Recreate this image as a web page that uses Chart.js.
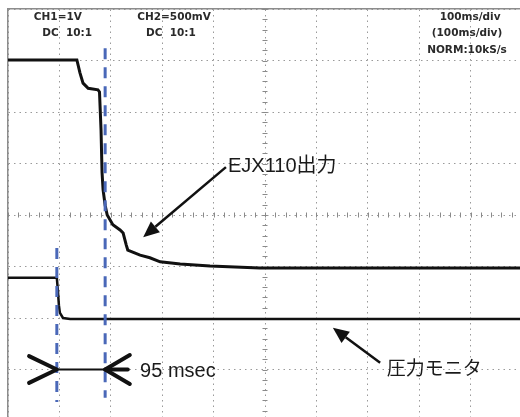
<!DOCTYPE html>
<html>
<head>
<meta charset="utf-8">
<script src="https://cdn.jsdelivr.net/npm/chart.js@4/dist/chart.umd.min.js"></script>
<style>
  html, body { margin: 0; padding: 0; background: #fff; overflow: hidden; }
  canvas { display: block; }
</style>
</head>
<body>
<canvas id="scope" width="530" height="430"></canvas>
<script>
// time in ms (100 ms/div), level in divisions above the centre line
const ejxTime  = [0, 134, 140, 146, 156, 175, 178, 181, 183, 185, 189, 193, 204, 218, 224, 230, 233, 257, 276, 296, 335, 393, 490, 1000];
const ejxLevel = [3.01, 3.01, 2.76, 2.56, 2.46, 2.43, 2.39, 1.65, 0.82, 0.49, 0.19, 0, -0.19, -0.29, -0.35, -0.58, -0.68, -0.78, -0.83, -0.91, -0.95, -0.99, -1.03, -1.03];

const monTime  = [0, 95, 97, 99, 101, 107, 121, 1000];
const monLevel = [-1.22, -1.22, -1.46, -1.75, -1.9, -2.0, -2.02, -2.02];

// blue cursors
const cursorTime   = [95, 189];
const cursorTop    = [-0.64, 3.24];
const cursorBottom = [-3.63, -3.55];

// 95 msec span marker
const spanLevel = -3;
const leftChevronTime  = [41, 95, 41];
const leftChevronLevel = [-2.74, -3, -3.26];
const rightChevronTime  = [237, 189, 237];
const rightChevronLevel = [-2.72, -3, -3.28];
const rightStubTime = [189, 233];

const headerLabels = ['CH1=1V', 'DC  10:1', 'CH2=500mV', 'DC  10:1', '100ms/div', '(100ms/div)', 'NORM:10kS/s'];
const headerTime   = [97, 115, 323, 317, 899, 893, 893];
const headerLevel  = [3.83, 3.52, 3.83, 3.52, 3.83, 3.52, 3.2];

const toPts = (xs, ys) => xs.map((x, i) => ({ x, y: ys[i] }));

const ink = '#111';
const cursorBlue = '#4a68b8';

const scopeDecor = {
  id: 'scopeDecor',
  beforeDatasetsDraw(chart) {
    const { ctx, scales: { x, y } } = chart;
    const cx = x.getPixelForValue(500);
    const cy = y.getPixelForValue(0);
    ctx.save();
    ctx.strokeStyle = '#8a8a8a';
    ctx.lineWidth = 1;
    ctx.beginPath();
    for (let t = 0; t <= 1000; t += 20) {
      const px = Math.round(x.getPixelForValue(t)) + 0.5;
      ctx.moveTo(px, cy - 2.5);
      ctx.lineTo(px, cy + 2.5);
    }
    for (let v = -40; v <= 40; v += 2) {
      const py = Math.round(y.getPixelForValue(v / 10)) + 0.5;
      ctx.moveTo(cx - 2.5, py);
      ctx.lineTo(cx + 2.5, py);
    }
    ctx.stroke();
    ctx.restore();
  },
  afterDatasetsDraw(chart) {
    const { ctx, scales: { x, y } } = chart;
    const P = (t, v) => [x.getPixelForValue(t), y.getPixelForValue(v)];

    const arrow = (from, to) => {
      const [x1, y1] = P(...from);
      const [x2, y2] = P(...to);
      const a = Math.atan2(y2 - y1, x2 - x1);
      const len = 16, half = 7;
      const bx = x2 - len * Math.cos(a), by = y2 - len * Math.sin(a);
      ctx.strokeStyle = ink;
      ctx.fillStyle = ink;
      ctx.lineWidth = 2.5;
      ctx.beginPath();
      ctx.moveTo(x1, y1);
      ctx.lineTo(bx, by);
      ctx.stroke();
      ctx.beginPath();
      ctx.moveTo(x2, y2);
      ctx.lineTo(bx + half * Math.sin(a), by - half * Math.cos(a));
      ctx.lineTo(bx - half * Math.sin(a), by + half * Math.cos(a));
      ctx.closePath();
      ctx.fill();
    };

    ctx.save();
    arrow([424, 0.93], [263, -0.43]);
    arrow([724, -2.87], [632, -2.19]);

    ctx.fillStyle = '#1a1a1a';
    ctx.textBaseline = 'middle';
    ctx.textAlign = 'left';
    ctx.font = '20px "Liberation Sans", "Noto Sans CJK JP", sans-serif';
    let [tx, ty] = P(428, 0.95);
    ctx.fillText('EJX110出力', tx, ty);
    [tx, ty] = P(257, -3.03);
    ctx.fillText('95 msec', tx, ty);
    ctx.font = '19px "Noto Sans CJK JP", sans-serif';
    [tx, ty] = P(737, -2.97);
    ctx.fillText('圧力モニタ', tx, ty);

    ctx.fillStyle = '#2a2a2a';
    ctx.textAlign = 'center';
    ctx.font = 'bold 10.5px "DejaVu Sans", sans-serif';
    headerLabels.forEach((s, i) => {
      const [hx, hy] = P(headerTime[i], headerLevel[i]);
      ctx.fillText(s, hx, hy);
    });
    ctx.restore();
  }
};

const lineSet = (data, extra) => Object.assign({
  data,
  borderColor: ink,
  borderWidth: 3,
  pointRadius: 0,
  tension: 0,
  fill: false,
  order: 1
}, extra);

new Chart(document.getElementById('scope'), {
  type: 'line',
  data: {
    datasets: [
      lineSet(toPts(cursorTime.slice(0, 1), cursorTop.slice(0, 1)).concat(toPts(cursorTime.slice(0, 1), cursorBottom.slice(0, 1))),
        { borderColor: cursorBlue, borderWidth: 3, borderDash: [11, 8], order: 0 }),
      lineSet(toPts(cursorTime.slice(1), cursorTop.slice(1)).concat(toPts(cursorTime.slice(1), cursorBottom.slice(1))),
        { borderColor: cursorBlue, borderWidth: 3, borderDash: [11, 8], order: 0 }),
      lineSet(toPts(ejxTime, ejxLevel), { borderWidth: 3 }),
      lineSet(toPts(monTime, monLevel), { borderWidth: 2.5 }),
      lineSet(toPts(cursorTime, [spanLevel, spanLevel]), { borderWidth: 2, order: -1 }),
      lineSet(toPts(leftChevronTime, leftChevronLevel), { borderWidth: 4, borderCapStyle: 'round', borderJoinStyle: 'round', order: -1 }),
      lineSet(toPts(rightChevronTime, rightChevronLevel), { borderWidth: 4, borderCapStyle: 'round', borderJoinStyle: 'round', order: -1 }),
      lineSet(toPts(rightStubTime, [spanLevel, spanLevel]), { borderWidth: 4, borderCapStyle: 'round', order: -1 })
    ]
  },
  options: {
    responsive: false,
    animation: false,
    devicePixelRatio: 1,
    layout: { padding: { left: 8, top: 9, right: 8, bottom: 9 } },
    plugins: { legend: { display: false }, tooltip: { enabled: false } },
    scales: {
      x: {
        type: 'linear',
        position: 'top',
        min: 0,
        max: 1000,
        ticks: { display: false, stepSize: 100 },
        grid: { color: '#9a9a9a', lineWidth: 1, drawTicks: false },
        border: { display: true, color: '#8c8c8c', width: 1.5, dash: [1.5, 4] }
      },
      y: {
        type: 'linear',
        position: 'left',
        min: -4,
        max: 4,
        ticks: { display: false, stepSize: 1 },
        grid: { color: '#9a9a9a', lineWidth: 1, drawTicks: false },
        border: { display: true, color: '#8c8c8c', width: 1.5, dash: [1.5, 4] }
      }
    }
  },
  plugins: [scopeDecor]
});
</script>
</body>
</html>
